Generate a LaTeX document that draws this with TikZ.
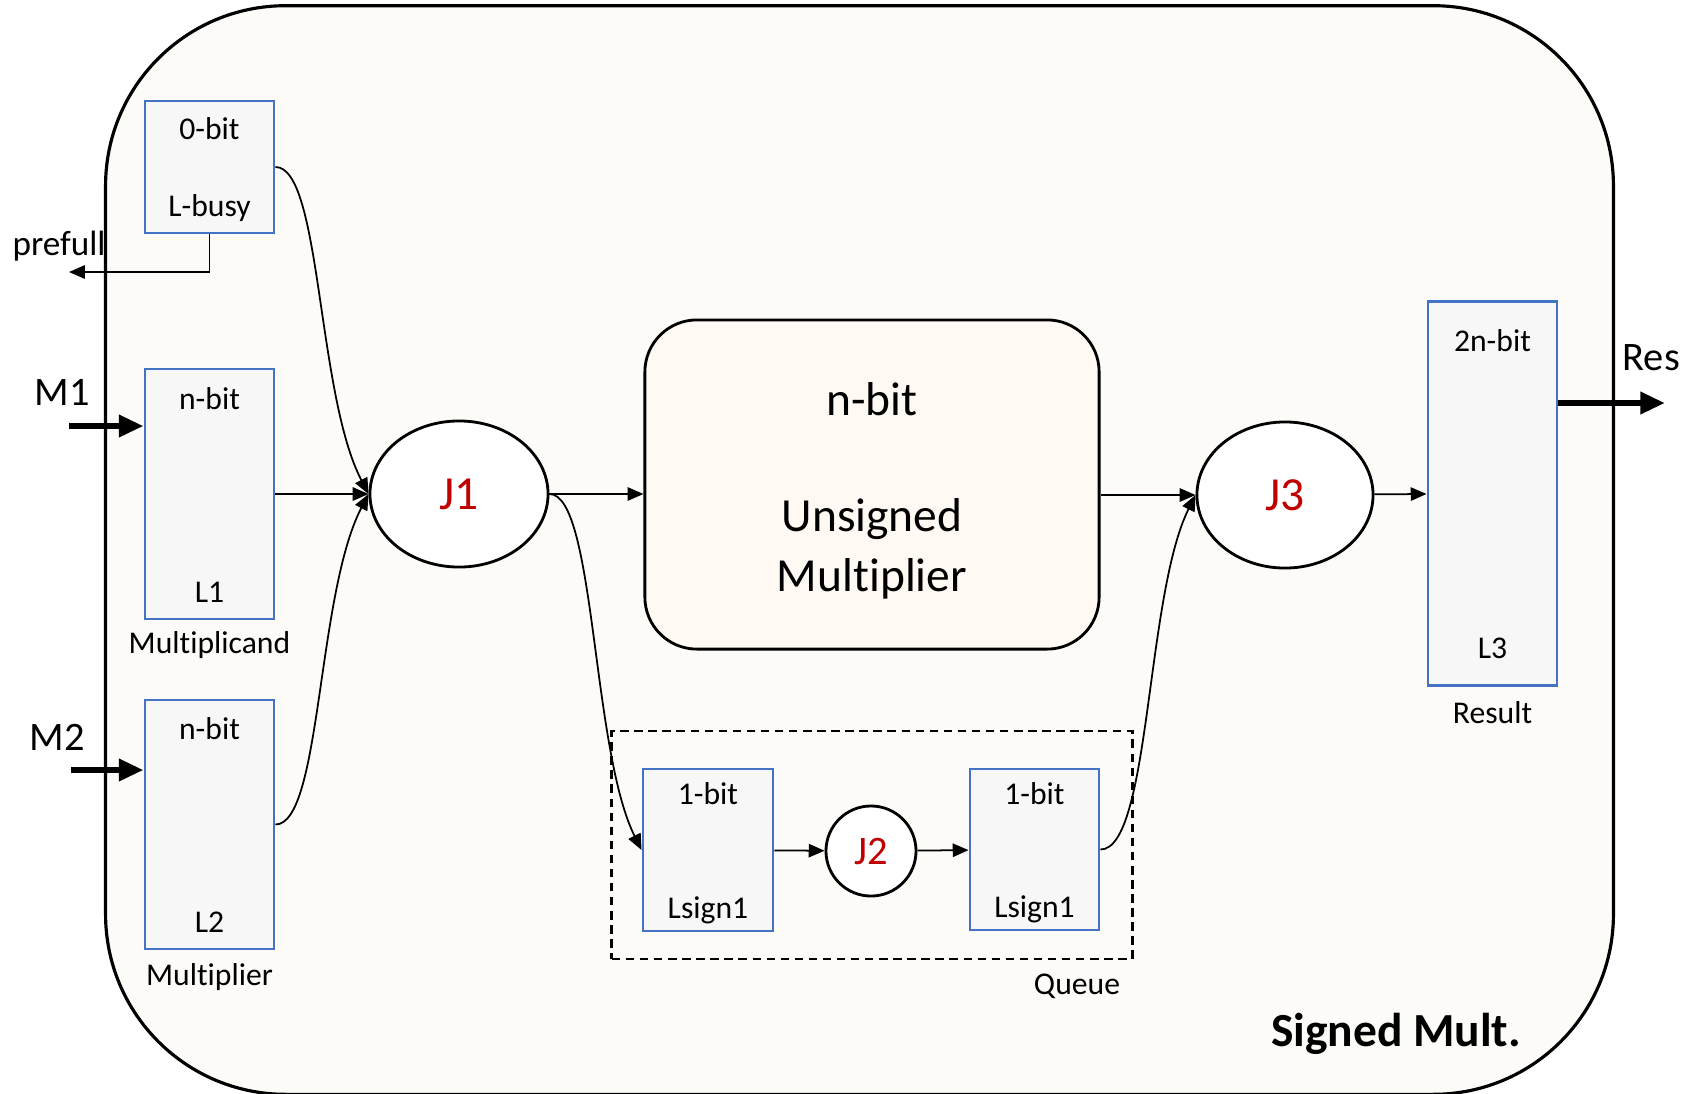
\documentclass[tikz,border=0pt]{standalone}
\usepackage{fontspec}
\setmainfont{Carlito}[Ligatures={NoCommon}]
\usetikzlibrary{
  arrows.meta,
  positioning,
  shapes.geometric,
  calc,
}
\definecolor{frameFill}{HTML}{FCFBF7}
\definecolor{coreFill}{HTML}{FFF9F3}
\definecolor{regBlue}{HTML}{4472C4}
\definecolor{regFill}{HTML}{F7F7F7}
\definecolor{joinRed}{HTML}{C00000}
\tikzset{
  frame/.style={
    rectangle, rounded corners=1.8cm, draw=black, line width=0.9pt,
    fill=frameFill, inner sep=0pt,
  },
  regbox/.style={
    rectangle, draw=regBlue, line width=0.8pt, fill=regFill,
    inner sep=0pt, minimum width=1.29cm,
  },
  regtext/.style={
    inner sep=0pt, font=\fontsize{9}{11}\selectfont,
  },
  joinnode/.style={
    ellipse, draw=black, line width=0.8pt, fill=white, inner sep=0pt,
    text=joinRed, font=\fontsize{13.5}{16}\selectfont,
  },
  corebox/.style={
    rectangle, rounded corners=0.52cm, draw=black, line width=0.8pt,
    fill=coreFill, inner sep=0pt,
    minimum width=4.54cm, minimum height=3.29cm,
  },
  coretext/.style={
    inner sep=0pt, align=center, font=\fontsize{13.5}{17}\selectfont,
  },
  queuebox/.style={
    rectangle, draw=black, line width=0.8pt, inner sep=0pt,
    dash pattern=on 2.4pt off 1.6pt,
  },
  portlabel/.style={
    inner sep=0pt, font=\fontsize{11.5}{14}\selectfont,
  },
  arrowThin/.style={
    -{Triangle[length=4.5pt,width=3.8pt]}, line width=0.5pt, draw=black,
  },
  arrowFat/.style={
    -{Triangle[length=7pt,width=6pt]}, line width=1.9pt, draw=black,
  },
}

\begin{document}
\begin{tikzpicture}[x=0.01cm, y=-0.01cm]
\useasboundingbox (0,0) rectangle (1684,1093);

% outer block
\node[frame, minimum width=15.07cm, minimum height=10.88cm] (signed) at (859.5,550) {};
\node[inner sep=0pt, font=\bfseries\fontsize{13.5}{16}\selectfont] (signedLbl) at (1396,1034) {Signed Mult.};

% input registers
\node[regbox, minimum height=1.32cm] (lbusy) at (209.5,167) {};
\node[regtext] (lbusyTop) at ($(lbusy.north)+(0,29)$) {0-bit};
\node[regtext] (lbusyBot) at ($(lbusy.south)+(0,-26)$) {L-busy};

\node[regbox, minimum height=2.50cm] (regL1) at (209.5,494) {};
\node[regtext] (l1Top) at ($(regL1.north)+(0,31)$) {n-bit};
\node[regtext] (l1Bot) at ($(regL1.south)+(0,-28)$) {L1};
\node[regtext, below=3pt of regL1] (l1Name) {Multiplicand};

\node[regbox, minimum height=2.49cm] (regL2) at (209.5,824.5) {};
\node[regtext] (l2Top) at ($(regL2.north)+(0,30)$) {n-bit};
\node[regtext] (l2Bot) at ($(regL2.south)+(0,-28)$) {L2};
\node[regtext, below=3.5pt of regL2] (l2Name) {Multiplier};

% ports
\node[portlabel] (m1Lbl) at (62,392) {M1};
\node[portlabel] (m2Lbl) at (57,737) {M2};
\node[portlabel, anchor=west] (resLbl) at (1622,358) {Res};
\node[inner sep=0pt, font=\fontsize{10}{12}\selectfont] (prefullLbl) at (59,246) {prefull};

% joins and core
\node[joinnode, minimum width=1.78cm, minimum height=1.46cm] (J1) at (459,494) {J1};
\node[corebox] (core) at (872,484.5) {};
\node[coretext] (coreTxt) at ($(core.center)+(0,6)$) {n-bit\\[16pt]Unsigned\\Multiplier};
\node[joinnode, minimum width=1.76cm, minimum height=1.46cm] (J3) at (1285,495) {J3};

% sign queue
\node[queuebox, minimum width=5.20cm, minimum height=2.28cm] (queue) at (872,845) {};
\node[regtext] (queueLbl) at (1077,986) {Queue};
\node[regbox, minimum width=1.30cm, minimum height=1.62cm] (lsignA) at (708,850) {};
\node[regtext] (lsignATop) at ($(lsignA.north)+(0,26)$) {1-bit};
\node[regtext] (lsignABot) at ($(lsignA.south)+(0,-22)$) {Lsign1};
\node[joinnode, minimum width=0.90cm, minimum height=0.90cm,
      font=\fontsize{11.5}{14}\selectfont] (J2) at (871,851) {J2};
\node[regbox, minimum height=1.61cm] (lsignB) at (1034.5,849.5) {};
\node[regtext] (lsignBTop) at ($(lsignB.north)+(0,26)$) {1-bit};
\node[regtext] (lsignBBot) at ($(lsignB.south)+(0,-22)$) {Lsign1};

% result register
\node[regbox, minimum height=3.83cm] (regL3) at (1492.5,493.5) {};
\node[regtext] (l3Top) at ($(regL3.north)+(0,40)$) {2n-bit};
\node[regtext] (l3Bot) at ($(regL3.south)+(0,-38)$) {L3};
\node[regtext, below=4pt of regL3] (l3Name) {Result};

% free ends
\coordinate (prefullTip) at (69,272);
\coordinate (m1Tail) at (69,426);
\coordinate (m2Tail) at (71,770);
\coordinate (resTip) at (1665,403);

% wide inputs / output
\draw[arrowFat] (m1Tail) -- (m1Tail -| regL1.west);
\draw[arrowFat] (m2Tail) -- (m2Tail -| regL2.west);
\draw[arrowFat] (resTip -| regL3.east) -- (resTip);

% data path
\draw[arrowThin] (lbusy.south) |- (prefullTip);
\draw[arrowThin] (lbusy.east) .. controls +(46,0) and +(-52,-100) .. (J1.west);
\draw[arrowThin] (regL1) -- (J1);
\draw[arrowThin] (regL2.east) .. controls +(46,0) and +(-52,100) .. (J1.west);
\draw[arrowThin] (J1.east) -- (J1.east -| core.west);
\draw[arrowThin] (J1.east) .. controls +(46,0) and +(-50,-100) .. (lsignA.west);
\draw[arrowThin] (lsignA) -- (J2);
\draw[arrowThin] (J2) -- (lsignB);
\draw[arrowThin] (lsignB.east) .. controls +(50,0) and +(-50,100) .. (J3.west);
\draw[arrowThin] (core.east |- J3.west) -- (J3.west);
\draw[arrowThin] (J3) -- (regL3);

\end{tikzpicture}
\end{document}
